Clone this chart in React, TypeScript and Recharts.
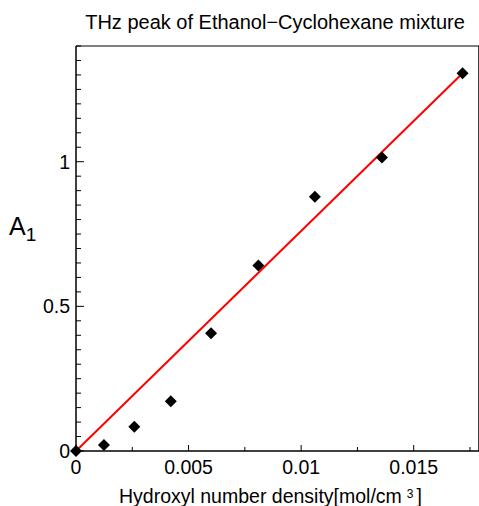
import { ComposedChart, Scatter, XAxis, YAxis } from 'recharts';

// 測定点
const densityValues = [0, 0.00124, 0.00259, 0.00421, 0.006, 0.0081, 0.01061, 0.01359, 0.01717];
const a1Values = [0, 0.021, 0.084, 0.172, 0.407, 0.641, 0.879, 1.015, 1.306];

// フィット直線（両端）
const fitDensity = [0, 0.01717];
const fitA1 = [0, 1.306];

// 目盛り
const xTicks = [0, 0.0025, 0.005, 0.0075, 0.01, 0.0125, 0.015, 0.0175];
const xMajor = [0, 0.005, 0.01, 0.015];
const xMajorLabels = ['0', '0.005', '0.01', '0.015'];
const yTicks = [
  0, 0.05, 0.1, 0.15, 0.2, 0.25, 0.3, 0.35, 0.4, 0.45, 0.5, 0.55, 0.6, 0.65, 0.7, 0.75, 0.8, 0.85, 0.9, 0.95, 1,
  1.05, 1.1, 1.15, 1.2, 1.25, 1.3, 1.35, 1.4,
];
const yMajor = [0, 0.5, 1];
const yMajorLabels = ['0', '0.5', '1'];

const FONT = '"Liberation Sans", Arial, sans-serif';

const points = densityValues.map((x, i) => ({ x, y: a1Values[i] }));
const fitLine = fitDensity.map((x, i) => ({ x, y: fitA1[i] }));

const labelFor = (value: number, majors: number[], labels: string[]) => {
  const idx = majors.findIndex((m) => Math.abs(m - value) < 1e-9);
  return idx >= 0 ? labels[idx] : null;
};

// 内向きの目盛り線 + ラベル
function FrameTick(props: any) {
  const { x, y, payload, side } = props;
  const v = payload.value;
  if (side === 'bottom' || side === 'top') {
    const label = labelFor(v, xMajor, xMajorLabels);
    const len = label !== null ? 6 : 4;
    const dir = side === 'bottom' ? -1 : 1;
    return (
      <g>
        <line x1={x} y1={y} x2={x} y2={y + dir * len} stroke="#000" strokeWidth={1} />
        {side === 'bottom' && label !== null && (
          <text x={x} y={y + 23} textAnchor="middle" fontSize={19.5} fontFamily={FONT} fill="#000">
            {label}
          </text>
        )}
      </g>
    );
  }
  const label = labelFor(v, yMajor, yMajorLabels);
  const len = label !== null ? 8 : 5;
  const dir = side === 'left' ? 1 : -1;
  return (
    <g>
      <line x1={x} y1={y} x2={x + dir * len} y2={y} stroke="#000" strokeWidth={1} />
      {side === 'left' && label !== null && (
        <text x={x - 6} y={y + 7} textAnchor="end" fontSize={19.5} fontFamily={FONT} fill="#000">
          {label}
        </text>
      )}
    </g>
  );
}

const Diamond = (props: any) => {
  const { cx, cy } = props;
  const r = 6;
  return <polygon points={`${cx},${cy - r} ${cx + r},${cy} ${cx},${cy + r} ${cx - r},${cy}`} fill="#000" />;
};

export default function App() {
  return (
    <div style={{ position: 'absolute', left: 0, top: 0, width: 479, height: 506, background: '#fff', overflow: 'hidden' }}>
      <ComposedChart width={480} height={506} margin={{ top: 45, right: 0, bottom: 25, left: 36 }}>
        <XAxis
          xAxisId="b"
          type="number"
          dataKey="x"
          domain={[0, 0.0179]}
          ticks={xTicks}
          interval={0}
          height={30}
          tickSize={0}
          tickMargin={0}
          axisLine={{ stroke: '#000', strokeWidth: 1.5 }}
          tickLine={false}
          tick={(p: any) => <FrameTick {...p} side="bottom" />}
        />
        <XAxis
          xAxisId="t"
          orientation="top"
          type="number"
          dataKey="x"
          domain={[0, 0.0179]}
          ticks={xTicks}
          interval={0}
          height={1}
          tickSize={0}
          tickMargin={0}
          axisLine={{ stroke: '#555', strokeWidth: 1.5 }}
          tickLine={false}
          tick={(p: any) => <FrameTick {...p} side="top" />}
        />
        <YAxis
          yAxisId="l"
          type="number"
          dataKey="y"
          domain={[0, 1.4]}
          ticks={yTicks}
          interval={0}
          width={40}
          tickSize={0}
          tickMargin={0}
          axisLine={{ stroke: '#000', strokeWidth: 1.5 }}
          tickLine={false}
          tick={(p: any) => <FrameTick {...p} side="left" />}
        />
        <YAxis
          yAxisId="r"
          orientation="right"
          type="number"
          dataKey="y"
          domain={[0, 1.4]}
          ticks={yTicks}
          interval={0}
          width={1}
          tickSize={0}
          tickMargin={0}
          axisLine={{ stroke: '#000', strokeWidth: 1.5 }}
          tickLine={false}
          tick={(p: any) => <FrameTick {...p} side="right" />}
        />
        <Scatter
          xAxisId="b"
          yAxisId="l"
          data={fitLine}
          line={{ stroke: '#ff0000', strokeWidth: 2 }}
          shape={() => <g />}
          isAnimationActive={false}
        />
        <Scatter xAxisId="b" yAxisId="l" data={points} shape={Diamond} isAnimationActive={false} />
        <text x={275} y={29} textAnchor="middle" fontSize={20} fontFamily={FONT} fill="#000">
          THz peak of Ethanol−Cyclohexane mixture
        </text>
        <text x={9} y={235} fontSize={25} fontFamily={FONT} fill="#000">
          A
          <tspan fontSize={19} dy={6}>
            1
          </tspan>
        </text>
        <text x={119} y={503} fontSize={19.5} fontFamily={FONT} fill="#000">
          Hydroxyl number density[mol/cm
          <tspan fontSize={12} dx={5} dy={-5}>
            3
          </tspan>
          <tspan fontSize={19.5} dx={3} dy={5}>
            ]
          </tspan>
        </text>
      </ComposedChart>
    </div>
  );
}
